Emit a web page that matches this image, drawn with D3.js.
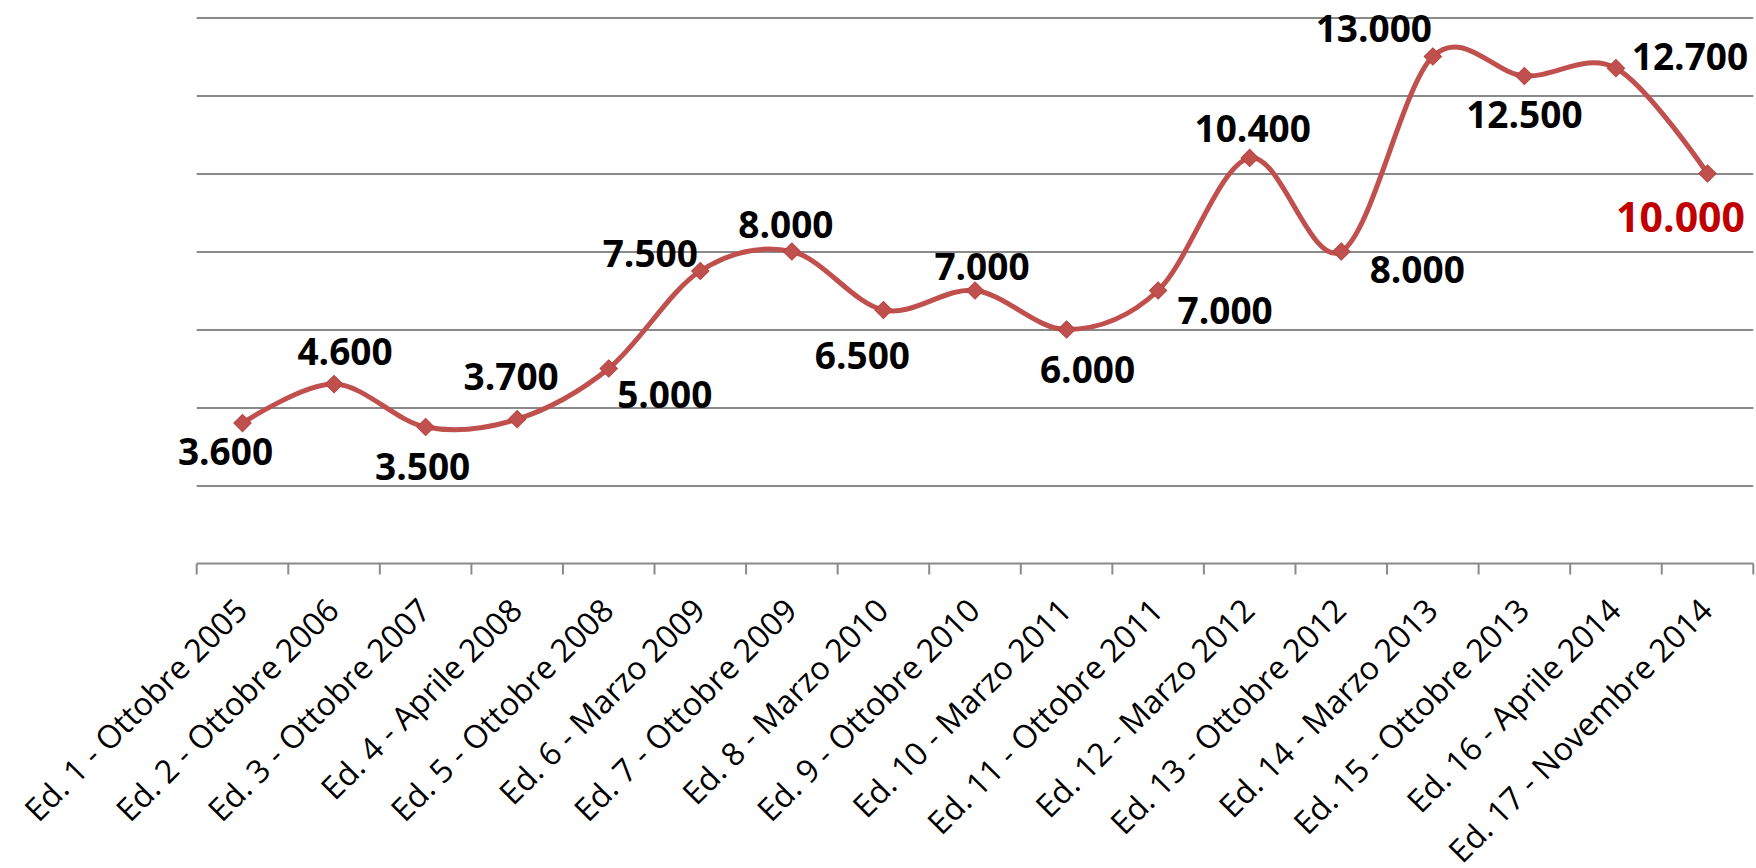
<!DOCTYPE html>
<html>
<head>
<meta charset="utf-8">
<script src="https://cdn.jsdelivr.net/npm/d3@7"></script>
<style>
  html, body { margin: 0; padding: 0; background: #ffffff; }
  svg { display: block; }
</style>
</head>
<body>
<svg id="chart" width="1756" height="868"></svg>
<script>
// ---- data ----
const categories = [
  "Ed. 1 - Ottobre 2005", "Ed. 2 - Ottobre 2006", "Ed. 3 - Ottobre 2007",
  "Ed. 4 - Aprile 2008", "Ed. 5 - Ottobre 2008", "Ed. 6 - Marzo 2009",
  "Ed. 7 - Ottobre 2009", "Ed. 8 - Marzo 2010", "Ed. 9 - Ottobre 2010",
  "Ed. 10 - Marzo 2011", "Ed. 11 - Ottobre 2011", "Ed. 12 - Marzo 2012",
  "Ed. 13 - Ottobre 2012", "Ed. 14 - Marzo 2013", "Ed. 15 - Ottobre 2013",
  "Ed. 16 - Aprile 2014", "Ed. 17 - Novembre 2014"
];
const values = [3600, 4600, 3500, 3700, 5000, 7500, 8000, 6500, 7000, 6000, 7000, 10400, 8000, 13000, 12500, 12700, 10000];
const yTicks = [2000, 4000, 6000, 8000, 10000, 12000, 14000];
const highlightIndex = [16];

// ---- layout (label offsets from each marker, px) ----
const labelDx = [-17, 11, -3, -6, 56, -50, -6, -21, 7, 21, 67, 3, 76, -59, 0, 74, -27];
const labelDy = [29, -32, 40, -42, 26, -17, -27, 46, -24, 40, 20, -29, 18, -28, 39, -11, 44];

(function () {
const svg = d3.select("#chart");
const pLeft = 196.7, pRight = 1753.3, pTop = 17.5, pBottom = 563.5;

const x = d3.scaleBand().domain(categories).range([pLeft, pRight]).padding(0);
const y = d3.scaleLinear().domain([0, 14000]).range([pBottom, pTop]);

const locale = d3.formatLocale({ decimal: ",", thousands: ".", grouping: [3], currency: ["€", ""] });
const fmt = locale.format(",d");

// gridlines
const grid = svg.append("g")
  .attr("transform", `translate(${pLeft},0)`)
  .call(d3.axisLeft(y).tickValues(yTicks).tickSize(-(pRight - pLeft)).tickFormat(""));
grid.select(".domain").remove();
grid.selectAll("line").attr("stroke", "#8a8a8a").attr("stroke-width", 2);

// x axis with labels
const xAxis = svg.append("g")
  .attr("transform", `translate(0,${pBottom})`)
  .call(d3.axisBottom(x).tickSize(0).tickPadding(0));
xAxis.select(".domain").attr("stroke", "#8a8a8a").attr("stroke-width", 2).attr("d", `M${pLeft},0H${pRight}`);
xAxis.selectAll("text")
  .attr("font-family", "'Open Sans', sans-serif")
  .attr("font-size", 32)
  .attr("fill", "#000")
  .attr("text-anchor", "end")
  .attr("dy", null)
  .attr("y", null)
  .attr("transform", "translate(7,49) rotate(-45)");

// boundary tick marks
const bounds = categories.map(c => x(c)).concat([x.range()[1]]);
svg.append("g").selectAll("line").data(bounds).join("line")
  .attr("x1", d => d).attr("x2", d => d)
  .attr("y1", pBottom).attr("y2", pBottom + 11)
  .attr("stroke", "#8a8a8a").attr("stroke-width", 2);

// smoothed line
const pts = values.map((v, i) => [x(categories[i]) + x.bandwidth() / 2, y(v)]);
const line = d3.line().curve(d3.curveCardinal.tension(0));
svg.append("path")
  .attr("d", line(pts))
  .attr("fill", "none")
  .attr("stroke", "#C0504D")
  .attr("stroke-width", 5)
  .attr("stroke-linejoin", "round");

// diamond markers
const sym = d3.symbol().type(d3.symbolSquare).size(150);
svg.append("g").selectAll("path").data(pts).join("path")
  .attr("d", sym())
  .attr("transform", d => `translate(${d[0]},${d[1]}) rotate(45)`)
  .attr("fill", "#C0504D")
  .attr("stroke", "#B8433F")
  .attr("stroke-width", 1);

// data labels
svg.append("g").selectAll("text").data(values).join("text")
  .attr("x", (v, i) => pts[i][0] + labelDx[i])
  .attr("y", (v, i) => {
    const fs = highlightIndex.includes(i) ? 41 : 37;
    return pts[i][1] + labelDy[i] + fs * 0.357;
  })
  .attr("text-anchor", "middle")
  .attr("font-family", "'Open Sans', sans-serif")
  .attr("font-weight", "bold")
  .attr("font-size", (v, i) => highlightIndex.includes(i) ? 41 : 37)
  .attr("fill", (v, i) => highlightIndex.includes(i) ? "#C00000" : "#000")
  .text(v => fmt(v));
})();
</script>
</body>
</html>
